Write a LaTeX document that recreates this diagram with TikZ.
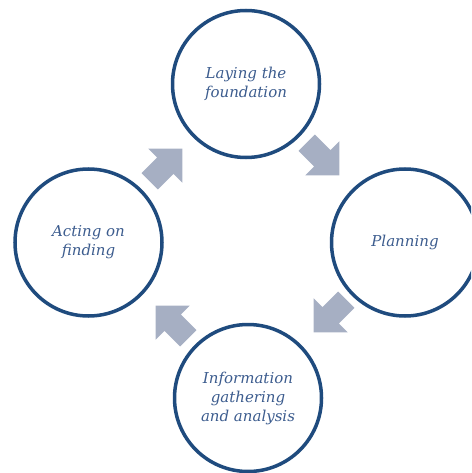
\documentclass[tikz,border=0pt]{standalone}
\usepackage{fontspec}
\setmainfont{DejaVu Serif}
\definecolor{ringc}{HTML}{1F4B7E}
\definecolor{textc}{HTML}{3C5C8E}
\definecolor{arrowc}{HTML}{A6AFC3}
\tikzset{
  ring/.style={circle, draw=ringc, line width=3.5pt, minimum size=147pt, inner sep=0pt,
    align=center, text=textc, font=\itshape\fontsize{15}{19}\selectfont},
  blk/.style={fill=arrowc, draw=none}
}
\newcommand\blkarrow[3]{\fill[blk, shift={(#1,#2)}, rotate=#3] (-23,-11.5) -- (-1,-11.5) -- (-1,-24) -- (23,0) -- (-1,24) -- (-1,11.5) -- (-23,11.5) -- cycle;}
\begin{document}
\begin{tikzpicture}[x=1pt,y=-1pt]
\useasboundingbox (0,0) rectangle (471,473);
\clip (0,0) rectangle (471,473);
\node[ring] (found) at (246,84) {Laying the\\foundation};
\node[ring] (plan) at (405,242.5) {Planning};
\node[ring] (info) at (248,398) {Information\\gathering\\and analysis};
\node[ring] (act) at (88.5,242.5) {Acting on\\finding};
\blkarrow{166}{165}{45}
\blkarrow{323}{159}{-45}
\blkarrow{330}{316}{-135}
\blkarrow{172}{322}{135}
\end{tikzpicture}
\end{document}
